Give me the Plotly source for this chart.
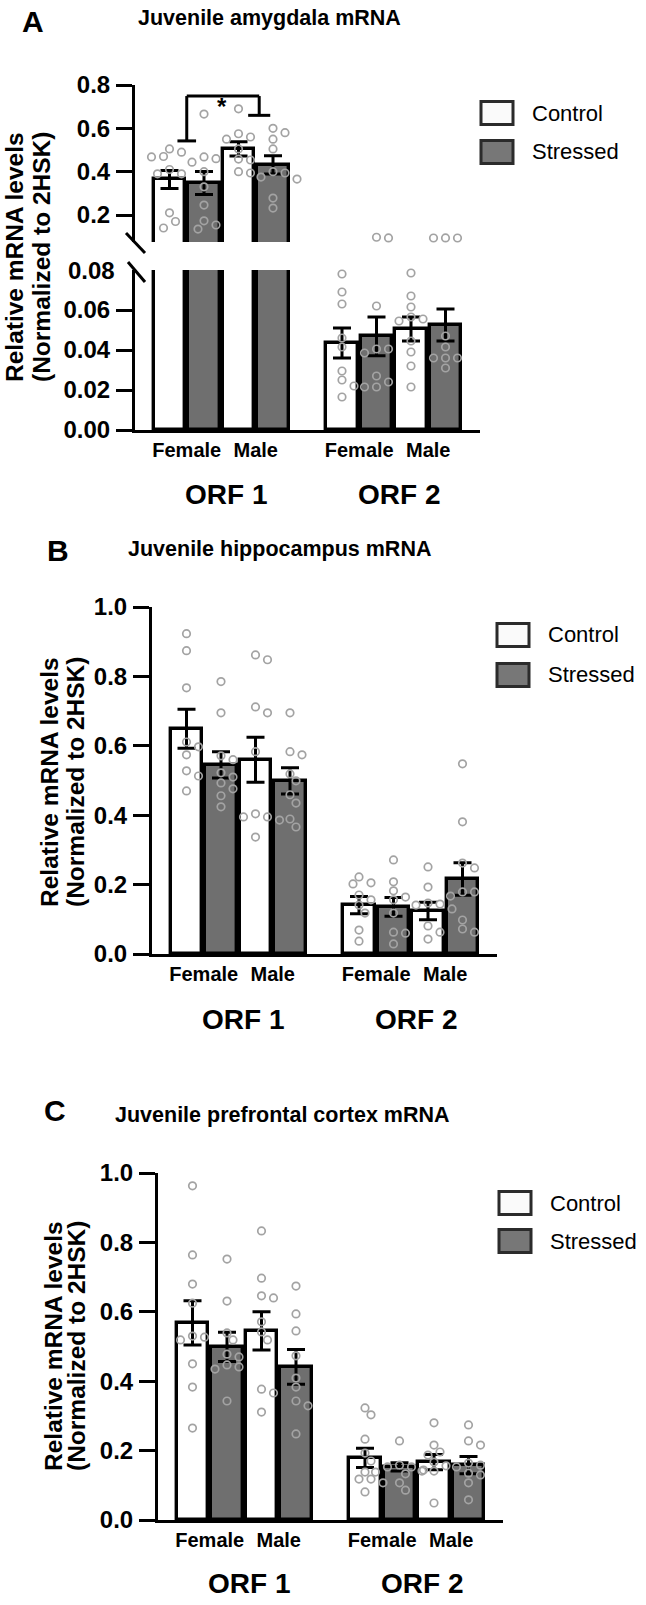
import plotly.graph_objects as go

W, H = 646, 1605
FONT = "Liberation Sans, Arial, Helvetica, sans-serif"
TICKFONT = FONT

# ---------------- data ----------------
orfs = ["ORF 1", "ORF 2"]
sexes = ["Female", "Male"]
conditions = ["Control", "Stressed"]
# order of 8 groups: ORF1 F-Ctrl, F-Str, M-Ctrl, M-Str, ORF2 F-Ctrl, F-Str, M-Ctrl, M-Str

amyg_mean = [0.364, 0.348, 0.505, 0.431, 0.0435, 0.0468, 0.0505, 0.0525]
amyg_sem = [0.042, 0.053, 0.033, 0.042, 0.0075, 0.0097, 0.006, 0.008]
amyg_points = [
    [0.505, 0.49, 0.47, 0.468, 0.41, 0.39, 0.39, 0.21, 0.17, 0.14],
    [0.666, 0.46, 0.468, 0.444, 0.40, 0.33, 0.246, 0.173, 0.154, 0.135],
    [0.69, 0.575, 0.56, 0.55, 0.505, 0.458, 0.454, 0.40, 0.394],
    [0.60, 0.58, 0.55, 0.505, 0.40, 0.394, 0.375, 0.366, 0.278, 0.232],
    [0.078, 0.069, 0.063, 0.046, 0.0415, 0.0295, 0.025, 0.022, 0.0165],
    [0.0975, 0.0945, 0.062, 0.0405, 0.0405, 0.0385, 0.027, 0.024, 0.0215, 0.0215],
    [0.0785, 0.067, 0.0615, 0.0565, 0.0555, 0.0545, 0.0445, 0.039, 0.032, 0.0215],
    [0.094, 0.0945, 0.094, 0.047, 0.0415, 0.036, 0.036, 0.036, 0.031],
]

hippo_mean = [0.649, 0.545, 0.560, 0.499, 0.141, 0.136, 0.124, 0.216]
hippo_sem = [0.056, 0.038, 0.065, 0.038, 0.025, 0.027, 0.025, 0.047]
hippo_points = [
    [0.923, 0.874, 0.767, 0.611, 0.597, 0.574, 0.528, 0.513, 0.47],
    [0.785, 0.695, 0.571, 0.56, 0.522, 0.51, 0.493, 0.476, 0.456, 0.424],
    [0.862, 0.848, 0.712, 0.695, 0.583, 0.404, 0.395, 0.395, 0.386, 0.337],
    [0.695, 0.583, 0.574, 0.519, 0.499, 0.459, 0.435, 0.389, 0.366],
    [0.222, 0.205, 0.202, 0.17, 0.156, 0.141, 0.118, 0.069, 0.037],
    [0.271, 0.208, 0.182, 0.164, 0.156, 0.118, 0.063, 0.06, 0.029],
    [0.251, 0.193, 0.147, 0.144, 0.141, 0.13, 0.081, 0.063, 0.043],
    [0.548, 0.381, 0.262, 0.248, 0.179, 0.179, 0.167, 0.098, 0.072, 0.063],
]

pfc_mean = [0.568, 0.499, 0.545, 0.441, 0.179, 0.153, 0.167, 0.158]
pfc_sem = [0.064, 0.042, 0.055, 0.050, 0.028, 0.012, 0.022, 0.025]
pfc_points = [
    [0.963, 0.764, 0.68, 0.625, 0.53, 0.527, 0.519, 0.45, 0.383, 0.265],
    [0.752, 0.631, 0.539, 0.519, 0.478, 0.47, 0.447, 0.441, 0.435, 0.343],
    [0.833, 0.697, 0.646, 0.64, 0.571, 0.542, 0.519, 0.377, 0.366, 0.311],
    [0.674, 0.594, 0.545, 0.473, 0.409, 0.383, 0.343, 0.329, 0.248],
    [0.323, 0.303, 0.233, 0.193, 0.17, 0.138, 0.118, 0.118, 0.107, 0.081],
    [0.228, 0.158, 0.153, 0.153, 0.144, 0.138, 0.133, 0.107, 0.086],
    [0.28, 0.216, 0.196, 0.187, 0.167, 0.156, 0.141, 0.141, 0.049],
    [0.274, 0.228, 0.216, 0.164, 0.158, 0.153, 0.135, 0.13, 0.107, 0.058],
]

titles = ["Juvenile amygdala mRNA", "Juvenile hippocampus mRNA",
          "Juvenile prefrontal cortex mRNA"]
panel_letters = ["A", "B", "C"]
y_title_lines = ["Relative mRNA levels", "(Normalized to 2HSK)"]

# ---------------- helpers ----------------
def px_x(p):
    return p / W

def px_y(p):
    return 1 - p / H

def bar_pos(i):
    orf, sex, cond = i // 4, (i // 2) % 2, i % 2
    return orf * 5 + sex * 2 + cond

XR = [-1, 9]

def swarm(vals, ypx_per_unit, xpx_per_unit, d=9.0, step=6.0):
    order = sorted(range(len(vals)), key=lambda k: -vals[k])
    placed = []
    offs = [0.0] * len(vals)
    for k in order:
        yp = vals[k] * ypx_per_unit
        j = 0
        while True:
            m = (j + 1) // 2 * (1 if j % 2 == 1 else -1)
            xp = m * step
            if all((xp - a) ** 2 + (yp - b) ** 2 >= d * d for a, b in placed):
                placed.append((xp, yp))
                offs[k] = xp / xpx_per_unit
                break
            j += 1
    return offs

fig = go.Figure()

subplots = {
    "A_low": dict(xa="x", ya="y", xpx=(135, 480), ypx=(270, 430), yr=[0, 0.08]),
    "A_up": dict(xa="x2", ya="y2", xpx=(135, 480), ypx=(85, 242), yr=[0.0755, 0.8]),
    "B": dict(xa="x3", ya="y3", xpx=(152, 497), ypx=(607, 954), yr=[0, 1.0]),
    "C": dict(xa="x4", ya="y4", xpx=(158, 503), ypx=(1173, 1520), yr=[0, 1.0]),
}

def scales(sp):
    xppu = (sp["xpx"][1] - sp["xpx"][0]) / (XR[1] - XR[0])
    yppu = (sp["ypx"][1] - sp["ypx"][0]) / (sp["yr"][1] - sp["yr"][0])
    return xppu, yppu

BAR_COL = ["white", "#6f6f6f"]
PT_COL = "#a3a3a3"

def add_bars(sp, means, sems):
    xa, ya = sp["xa"], sp["ya"]
    for cond in range(2):
        idx = [i for i in range(8) if i % 2 == cond]
        fig.add_trace(go.Bar(
            x=[bar_pos(i) for i in idx], y=[means[i] for i in idx],
            width=0.9, xaxis=xa, yaxis=ya, name=conditions[cond],
            marker=dict(color=BAR_COL[cond], line=dict(color="black", width=3.4)),
            error_y=dict(type="data", array=[sems[i] for i in idx], visible=True,
                         color="black", thickness=3, width=9),
            showlegend=False))

def add_points(sp, points, offsets, keep=lambda v: True):
    xs, ys = [], []
    for i in range(8):
        for v, o in zip(points[i], offsets[i]):
            if keep(v):
                xs.append(bar_pos(i) + o)
                ys.append(v)
    fig.add_trace(go.Scatter(
        x=xs, y=ys, mode="markers", xaxis=sp["xa"], yaxis=sp["ya"], cliponaxis=False,
        marker=dict(symbol="circle-open", size=7.5, color=PT_COL,
                    line=dict(width=1.7, color=PT_COL)),
        showlegend=False))

# amygdala: broken axis -> each point goes to the segment that contains it
a_up, a_low = subplots["A_up"], subplots["A_low"]
a_up_sc, a_low_sc = scales(a_up), scales(a_low)
split = a_low["yr"][1]
amyg_offs = [swarm(amyg_points[i], (a_up_sc if i < 4 else a_low_sc)[1],
                   a_up_sc[0]) for i in range(8)]
add_bars(a_up, amyg_mean, amyg_sem)
add_points(a_up, amyg_points, amyg_offs, keep=lambda v: v >= split)
add_bars(a_low, amyg_mean, amyg_sem)
add_points(a_low, amyg_points, amyg_offs, keep=lambda v: v < split)

for name, means, sems, pts in [("B", hippo_mean, hippo_sem, hippo_points),
                               ("C", pfc_mean, pfc_sem, pfc_points)]:
    sp = subplots[name]
    xs_, ys_ = scales(sp)
    add_bars(sp, means, sems)
    add_points(sp, pts, [swarm(pts[i], ys_, xs_) for i in range(8)])

tick_font = dict(family=TICKFONT, size=24, color="black", weight="bold")
xlab_font = dict(family=FONT, size=20, color="black", weight="bold")

def yaxis_cfg(sp, tickvals, fmt):
    return dict(domain=[px_y(sp["ypx"][1]), px_y(sp["ypx"][0])], range=sp["yr"],
                anchor=sp["xa"], showline=True, linewidth=3, linecolor="black",
                ticks="outside", ticklen=16, tickwidth=3, tickcolor="black",
                tickvals=tickvals, tickformat=fmt, tickfont=tick_font,
                ticklabelstandoff=1, automargin=False,
                showgrid=False, zeroline=False, fixedrange=True)

def xaxis_cfg(sp, visible=True):
    return dict(domain=[px_x(sp["xpx"][0]), px_x(sp["xpx"][1])], range=XR,
                anchor=sp["ya"], visible=visible, showline=True, linewidth=3,
                linecolor="black", ticks="", tickvals=[0.5, 2.5, 5.5, 7.5],
                ticktext=sexes * 2, tickfont=xlab_font, ticklabelstandoff=0,
                automargin=False,
                showgrid=False, zeroline=False, fixedrange=True)

tv1 = [0, 0.2, 0.4, 0.6, 0.8, 1.0]
fig.update_layout(
    width=W, height=H, margin=dict(l=0, r=0, t=0, b=0, pad=0),
    paper_bgcolor="white", plot_bgcolor="white", showlegend=False, bargap=0,
    xaxis=xaxis_cfg(subplots["A_low"]),
    yaxis=yaxis_cfg(subplots["A_low"], [0, 0.02, 0.04, 0.06], ".2f"),
    xaxis2=xaxis_cfg(subplots["A_up"], visible=False),
    yaxis2=yaxis_cfg(subplots["A_up"], [0.2, 0.4, 0.6, 0.8], ".1f"),
    xaxis3=xaxis_cfg(subplots["B"]),
    yaxis3=yaxis_cfg(subplots["B"], tv1, ".1f"),
    xaxis4=xaxis_cfg(subplots["C"]),
    yaxis4=yaxis_cfg(subplots["C"], tv1, ".1f"),
)

ann = []
shapes = []

def text(x, y, s, size, bold=True, xanchor="center", yanchor="middle", angle=0,
         xref="paper", yref="paper", family=FONT):
    ann.append(dict(x=x, y=y, xref=xref, yref=yref, text=s, showarrow=False,
                    xanchor=xanchor, yanchor=yanchor, textangle=angle,
                    font=dict(family=family, size=size, color="black",
                              weight="bold" if bold else "normal")))

# panel letters and titles
letter_pos = [(33, 22), (58, 550), (55, 1110)]
title_pos = [(136, 18), (126, 549), (113, 1115)]
for k in range(3):
    text(px_x(letter_pos[k][0]), px_y(letter_pos[k][1]), panel_letters[k], 30)
    text(px_x(title_pos[k][0]), px_y(title_pos[k][1]), titles[k], 21.5, xanchor="left")

# y-axis titles (two separate lines, tight spacing)
ytitle_pos = [((14, 41), 257), ((50, 76), 782), ((53, 76), 1346)]
for (x1, x2), yc in ytitle_pos:
    text(px_x(x1), px_y(yc), y_title_lines[0], 24.5, angle=-90)
    text(px_x(x2), px_y(yc), y_title_lines[1], 24.5, angle=-90)

# ORF group labels
orf_y = [495, 1019, 1583]
for sp_name, yy in zip(["A_low", "B", "C"], orf_y):
    sp = subplots[sp_name]
    for g in range(2):
        text(g * 5 + 1.65, px_y(yy), orfs[g], 28, xref=sp["xa"])

# 0.08 label at top of lower amygdala axis (tick replaced by the axis break)
text(px_x(117), 0.08, "0.08", 24, xanchor="right", yref="y", family=TICKFONT)

# axis break marks
for (x0, y0, x1, y1) in [(126, 233, 145, 253), (128, 262, 145, 282)]:
    shapes.append(dict(type="line", xref="paper", yref="paper",
                       x0=px_x(x0), y0=px_y(y0), x1=px_x(x1), y1=px_y(y1),
                       line=dict(color="black", width=3)))

# significance bracket (Female vs Male, ORF 1 amygdala)
br = [(0.5 - 0.27, 0.542, 0.5 + 0.27, 0.542), (0.5, 0.542, 0.5, 0.749),
      (0.5, 0.749, 2.6, 0.749), (2.6, 0.749, 2.6, 0.66),
      (2.6 - 0.32, 0.66, 2.6 + 0.32, 0.66)]
for (x0, y0, x1, y1) in br:
    shapes.append(dict(type="line", xref="x2", yref="y2", x0=x0, y0=y0, x1=x1, y1=y1,
                       line=dict(color="black", width=3)))
text(1.52, 0.70, "*", 24, xref="x2", yref="y2")

# legends
leg = [(481, 113, 152), (497, 635, 675), (499, 1203, 1241)]
leg_fill = ["#fafafa", "#777777"]
for bx, yc1, yc2 in leg:
    for c, yc in enumerate([yc1, yc2]):
        shapes.append(dict(type="rect", xref="paper", yref="paper",
                           x0=px_x(bx), x1=px_x(bx + 32), y0=px_y(yc + 11.5),
                           y1=px_y(yc - 11.5), fillcolor=leg_fill[c],
                           line=dict(color="#2b2b2b", width=3)))
        text(px_x(bx + 49), px_y(yc), conditions[c], 22, bold=False, xanchor="left")

fig.update_layout(annotations=ann, shapes=shapes)
fig.write_html(
    "out.html",
    config={"displayModeBar": False},
    post_script="document.body.style.margin='0';document.body.style.overflow='hidden';",
)
